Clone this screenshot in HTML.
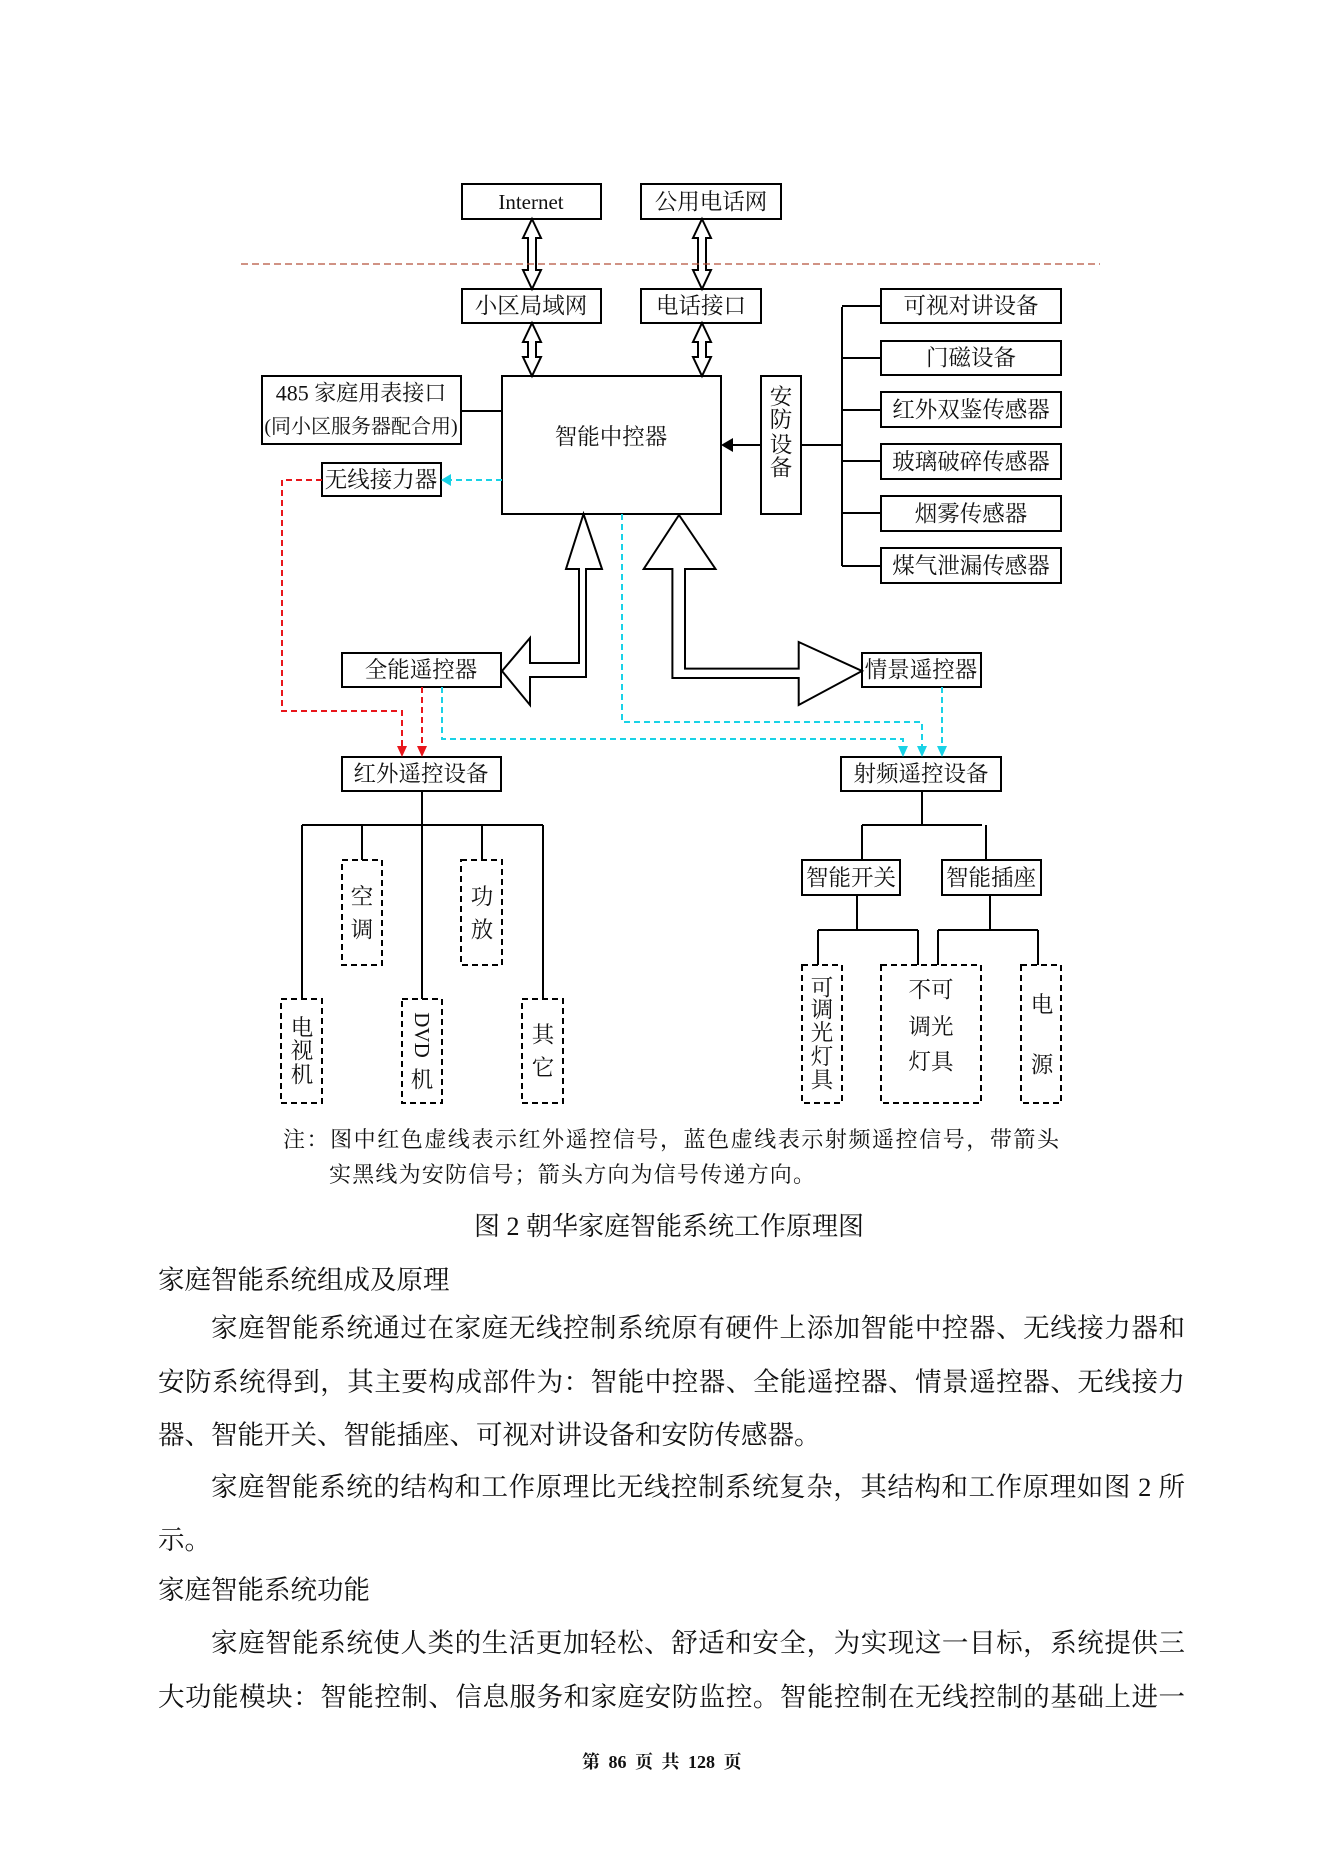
<!DOCTYPE html>
<html><head><meta charset="utf-8"><style>
html,body{margin:0;padding:0;background:#fff;}
body{width:1323px;height:1871px;position:relative;overflow:hidden;font-family:"Liberation Serif","Noto Serif CJK SC",serif;color:#111;}
svg{position:absolute;left:0;top:0;}
.t{position:absolute;white-space:nowrap;line-height:1;}
.p{position:absolute;left:158px;width:1027px;font-size:26.5px;line-height:1;text-align:justify;text-align-last:justify;white-space:nowrap;}
.n{position:absolute;font-size:22px;line-height:1;text-align:justify;text-align-last:justify;white-space:nowrap;}
</style></head><body>
<svg width="1323" height="1200" viewBox="0 0 1323 1200" font-family="Liberation Serif, Noto Serif CJK SC, serif" font-size="22.5">
<g fill="none" stroke="#000" stroke-width="2">
<rect x="462" y="184" width="139" height="35"/>
<rect x="641" y="184" width="140" height="35"/>
<rect x="462" y="289" width="139" height="34"/>
<rect x="641" y="289" width="120" height="34"/>
<rect x="502" y="376" width="219" height="138"/>
<rect x="262" y="376" width="199" height="68"/>
<rect x="322" y="463" width="119" height="33"/>
<rect x="761" y="376" width="40" height="138"/>
<rect x="881" y="289" width="180" height="34"/>
<rect x="881" y="341" width="180" height="34"/>
<rect x="881" y="392" width="180" height="35"/>
<rect x="881" y="444" width="180" height="35"/>
<rect x="881" y="496" width="180" height="35"/>
<rect x="881" y="548" width="180" height="35"/>
<rect x="342" y="653" width="159" height="34"/>
<rect x="862" y="653" width="119" height="34"/>
<rect x="342" y="757" width="159" height="34"/>
<rect x="841" y="757" width="160" height="34"/>
<rect x="802" y="860" width="98" height="35"/>
<rect x="942" y="860" width="99" height="35"/>
<path d="M461 411H502 M731 445H761 M801 445H842 M842 307V566 M842 306H881 M842 358H881 M842 410H881 M842 461H881 M842 513H881 M842 566H881"/>
<path d="M422 791V999 M302 825H543 M302 825V999 M362 825V860 M482 825V860 M543 825V999"/>
<path d="M922 791V825 M862 825H982 M862 825V860 M986 825V860 M857 895V930 M818 930H918 M818 930V965 M918 930V965 M990 895V930 M938 930H1038 M938 930V965 M1038 930V965"/>
<polygon points="532,219 541,238 536,238 536,270 541,270 532,289 523,270 528,270 528,238 523,238"/>
<polygon points="702,219 711,238 706,238 706,270 711,270 702,289 693,270 698,270 698,238 693,238"/>
<polygon points="532,323 541,342 536,342 536,357 541,357 532,376 523,357 528,357 528,342 523,342"/>
<polygon points="702,323 711,342 706,342 706,357 711,357 702,376 693,357 698,357 698,342 693,342"/>
<polygon points="583.5,514 602,569 586,569 586,677 530,677 530,705 502,671 530,638 530,663 579,663 579,569 566,569"/>
<polygon points="679,515 715.5,569 685,569 685,668.6 798.7,668.6 798.7,642 862,671 798.7,705 798.7,678 672.4,678 672.4,569 643.7,569"/>
</g>
<polygon points="721,445 733,438 733,452" fill="#000"/>
<g fill="none" stroke="#000" stroke-width="2" stroke-dasharray="6,4">
<rect x="342" y="860" width="40" height="105"/>
<rect x="461" y="860" width="41" height="105"/>
<rect x="281" y="999" width="41" height="104"/>
<rect x="402" y="999" width="40" height="104"/>
<rect x="522" y="999" width="41" height="104"/>
<rect x="802" y="965" width="40" height="138"/>
<rect x="881" y="965" width="100" height="138"/>
<rect x="1021" y="965" width="40" height="138"/>
</g>
<line x1="241" y1="264" x2="1100" y2="264" stroke="#b5523a" stroke-width="1.2" stroke-dasharray="7,4"/>
<g fill="none" stroke="#e8161b" stroke-width="2" stroke-dasharray="6,4">
<path d="M322 480H282V711H402V748"/>
<path d="M422 687V748"/>
</g>
<polygon points="397,746 407,746 402,757" fill="#e8161b"/>
<polygon points="417,746 427,746 422,757" fill="#e8161b"/>
<g fill="none" stroke="#19d2e6" stroke-width="2" stroke-dasharray="6,4">
<path d="M502 480H450"/>
<path d="M622 514V722H922V748"/>
<path d="M442 687V739H903V748"/>
<path d="M942 687V748"/>
</g>
<polygon points="441,480 451,474 451,486" fill="#19d2e6"/>
<polygon points="898,746 908,746 903,757" fill="#19d2e6"/>
<polygon points="917,746 927,746 922,757" fill="#19d2e6"/>
<polygon points="937,746 947,746 942,757" fill="#19d2e6"/>
<g fill="#111" dominant-baseline="central" text-anchor="middle">
<text x="531" y="202" font-size="21">Internet</text>
<text x="711" y="202">公用电话网</text>
<text x="531" y="306">小区局域网</text>
<text x="701" y="306">电话接口</text>
<text x="611" y="437">智能中控器</text>
<text x="361" y="393" font-size="22">485 家庭用表接口</text>
<text x="361" y="427" font-size="20">(同小区服务器配合用)</text>
<text x="381" y="480">无线接力器</text>
<text x="781" y="397">安</text><text x="781" y="420">防</text><text x="781" y="445">设</text><text x="781" y="468">备</text>
<text x="971" y="306">可视对讲设备</text>
<text x="971" y="358">门磁设备</text>
<text x="971" y="410">红外双鉴传感器</text>
<text x="971" y="462">玻璃破碎传感器</text>
<text x="971" y="514">烟雾传感器</text>
<text x="971" y="566">煤气泄漏传感器</text>
<text x="421" y="670">全能遥控器</text>
<text x="921" y="670">情景遥控器</text>
<text x="421" y="774">红外遥控设备</text>
<text x="921" y="774">射频遥控设备</text>
<text x="851" y="878">智能开关</text>
<text x="991" y="878">智能插座</text>
<text x="362" y="897">空</text><text x="362" y="930">调</text>
<text x="482" y="897">功</text><text x="482" y="930">放</text>
<text x="302" y="1028">电</text><text x="302" y="1051">视</text><text x="302" y="1075">机</text>
<text x="422" y="1035" transform="rotate(90 422 1035)" font-size="21">DVD</text><text x="422" y="1080">机</text>
<text x="543" y="1035">其</text><text x="543" y="1068">它</text>
<text x="822" y="988">可</text><text x="822" y="1010">调</text><text x="822" y="1033">光</text><text x="822" y="1057">灯</text><text x="822" y="1080">具</text>
<text x="931" y="990">不可</text><text x="931" y="1027">调光</text><text x="931" y="1062">灯具</text>
<text x="1042" y="1005">电</text><text x="1042" y="1065">源</text>
</g>
</svg>
<div class="n" style="left:283px;top:1129px;width:776px;">注：图中红色虚线表示红外遥控信号，蓝色虚线表示射频遥控信号，带箭头</div>
<div class="n" style="left:329px;top:1164px;width:486px;">实黑线为安防信号；箭头方向为信号传递方向。</div>
<div class="t" style="left:474px;top:1214px;font-size:26px;">图 2 朝华家庭智能系统工作原理图</div>
<div class="t" style="left:158px;top:1267px;font-size:26.5px;">家庭智能系统组成及原理</div>
<div class="p" style="top:1315px;"><span style="padding-left:53px"></span>家庭智能系统通过在家庭无线控制系统原有硬件上添加智能中控器、无线接力器和</div>
<div class="p" style="top:1369px;">安防系统得到，其主要构成部件为：智能中控器、全能遥控器、情景遥控器、无线接力</div>
<div class="p" style="top:1422px;text-align-last:left;">器、智能开关、智能插座、可视对讲设备和安防传感器。</div>
<div class="p" style="top:1474px;"><span style="padding-left:53px"></span>家庭智能系统的结构和工作原理比无线控制系统复杂，其结构和工作原理如图 2 所</div>
<div class="p" style="top:1527px;text-align-last:left;">示。</div>
<div class="t" style="left:158px;top:1577px;font-size:26.5px;">家庭智能系统功能</div>
<div class="p" style="top:1630px;"><span style="padding-left:53px"></span>家庭智能系统使人类的生活更加轻松、舒适和安全，为实现这一目标，系统提供三</div>
<div class="p" style="top:1684px;">大功能模块：智能控制、信息服务和家庭安防监控。智能控制在无线控制的基础上进一</div>
<div class="t" style="left:582px;top:1753px;font-size:18px;font-weight:bold;word-spacing:4px;">第 86 页 共 128 页</div>
</body></html>
